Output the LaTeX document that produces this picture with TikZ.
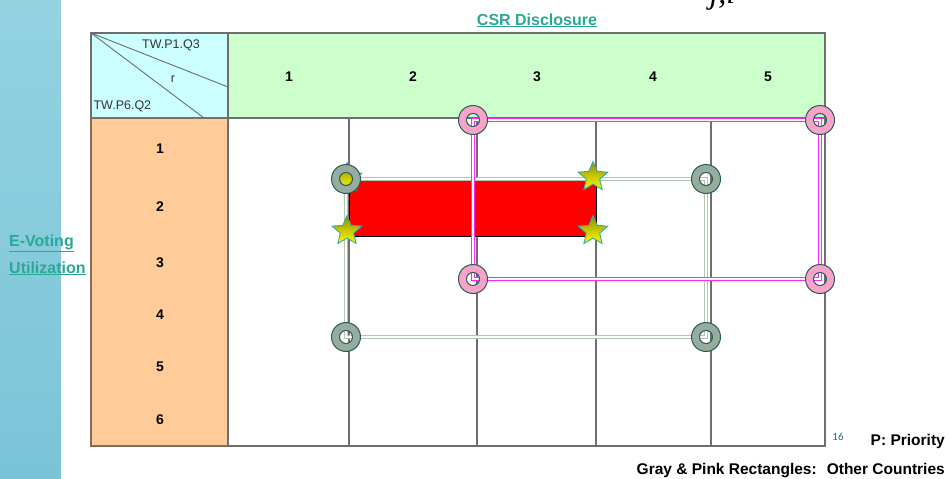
\documentclass[tikz,border=0pt]{standalone}
\usepackage{fontspec}
\setmainfont{Liberation Sans}
\newfontfamily\eqfont{Liberation Serif}
\newfontfamily\pagefont{Carlito}
\usetikzlibrary{shapes.geometric, positioning, calc}
\definecolor{stripblue}{RGB}{148, 210, 224}
\definecolor{stripdeep}{RGB}{122, 196, 216}
\definecolor{cornercyan}{RGB}{204, 255, 255}
\definecolor{headgreen}{RGB}{204, 255, 204}
\definecolor{roworange}{RGB}{255, 204, 153}
\definecolor{cellgray}{RGB}{110, 110, 110}
\definecolor{orangeedge}{RGB}{130, 110, 90}
\definecolor{linkteal}{RGB}{42, 168, 150}
\definecolor{ringedge}{RGB}{40, 90, 95}
\definecolor{ringgray}{RGB}{150, 172, 156}
\definecolor{ringpink}{RGB}{249, 163, 201}
\definecolor{framegray}{RGB}{178, 198, 178}
\definecolor{framepink}{RGB}{255, 40, 255}
\definecolor{starolive}{RGB}{140, 140, 0}
\definecolor{staredge}{RGB}{50, 170, 170}
\definecolor{pageteal}{RGB}{40, 110, 120}
\tikzset{
  cellnum/.style={font=\fontsize{14}{16}\selectfont\bfseries},
  cornerlbl/.style={font=\fontsize{12.5}{14}\selectfont, text=black!80},
  linklbl/.style={font=\fontsize{16}{18}\selectfont\bfseries, text=linkteal},
  notelbl/.style={font=\fontsize{15.5}{18}\selectfont\bfseries},
  gridline/.style={draw=cellgray, line width=1.2pt},
  grayframe/.style={draw=framegray, line width=1.1pt, double=white, double distance=1.4pt},
  pinkframe/.style={draw=framepink, line width=1.1pt, double=white, double distance=1.4pt},
  priostar/.style={star, star points=5, star point ratio=2.2, minimum size=31pt, inner sep=0pt,
    draw=staredge, line width=0.9pt, top color=starolive, bottom color=yellow},
  ring/.pic={
    \filldraw[even odd rule, draw=ringedge, line width=1pt, fill=#1]
      (0,0) circle[radius=14.5pt] (0,0) circle[radius=6.5pt];
  }
}

\begin{document}
\begin{tikzpicture}[x=1pt, y=-1pt]
  \useasboundingbox (0,0) rectangle (951,479);
  % slide strip on the left
  \fill[top color=stripblue, bottom color=stripdeep] (0,0) rectangle (61,479);
  \node[font=\eqfont\itshape\fontsize{32}{34}\selectfont, anchor=base west] (eqcut) at (706,3) {j,i};

  % table frame
  \coordinate (corner) at (91,33);
  \coordinate (cornerbr) at (228,118);
  \filldraw[fill=cornercyan, draw=cellgray, line width=1.5pt] (corner) rectangle (cornerbr);
  \filldraw[fill=headgreen, draw=cellgray, line width=1.5pt] (228,33) rectangle (825,118);
  \filldraw[fill=roworange, draw=orangeedge, line width=1.5pt] (91,118) rectangle (228,446);
  \draw[gridline, line width=1.5pt] (228,118) -- (228,446) -- (825,446) -- (825,118);
  \foreach \x in {349,477,596,711} {
    \draw[gridline] (\x,118) -- (\x,446);
  }
  \coordinate (diagA) at (228,87);
  \coordinate (diagB) at (204,118);
  \draw[cellgray, line width=0.9pt] (corner) -- (diagA);
  \draw[cellgray, line width=0.9pt] (corner) -- (diagB);
  \node[cornerlbl] (lblcol) at (171,45) {TW.P1.Q3};
  \node[cornerlbl] (lblr) at (173,79) {r};
  \node[cornerlbl, anchor=west] (lblrow) at (90,106) {TW.P6.Q2};

  \foreach \n/\x in {1/289,2/413,3/537,4/653,5/768} {
    \node[cellnum] (col\n) at (\x,77) {\n};
  }
  \foreach \n/\y in {1/149,2/207,3/263,4/315,5/367,6/420} {
    \node[cellnum] (row\n) at (160,\y) {\n};
  }

  % priority block
  \filldraw[fill=red, draw=black, line width=0.6pt] (349,178) rectangle (596,236);

  % other countries
  \coordinate (g1) at (346,179);
  \coordinate (g2) at (706,179);
  \coordinate (g3) at (706,337);
  \coordinate (g4) at (346,337);
  \draw[grayframe] (g1) -- (g2) -- (g3) -- (g4) -- cycle;
  \coordinate (p1) at (473,120);
  \coordinate (p2) at (820,120);
  \coordinate (p3) at (820,279);
  \coordinate (p4) at (473,279);
  \draw[pinkframe] (p1) -- (p2) -- (p3) -- (p4) -- cycle;

  \node[priostar] (s1) at (347,178) {};
  \node[priostar] (s2) at (593,177) {};
  \node[priostar] (s3) at (347,231) {};
  \node[priostar] (s4) at (593,231) {};

  \foreach \c in {g1,g2,g3,g4} {
    \pic at (\c) {ring=ringgray};
  }
  \foreach \c in {p1,p2,p3,p4} {
    \pic at (\c) {ring=ringpink};
  }

  % labels
  \node[linklbl, anchor=base] (csr) at (537,25) {\underline{CSR Disclosure}};
  \node[linklbl, anchor=base west, inner sep=0pt] (evote) at (9,246) {\underline{E-Voting}};
  \node[linklbl, anchor=base west, inner sep=0pt] (util) at (9,273) {\underline{Utilization}};
  \node[font=\pagefont\fontsize{11}{12}\selectfont, text=pageteal, anchor=base] (page) at (838,440) {16};
  \node[notelbl, anchor=base east, inner sep=0pt] (prio) at (945,445) {P: Priority};
  \node[notelbl, anchor=base east, inner sep=0pt] (others) at (945,474) {Gray \& Pink Rectangles:~ Other Countries};
\end{tikzpicture}
\end{document}
